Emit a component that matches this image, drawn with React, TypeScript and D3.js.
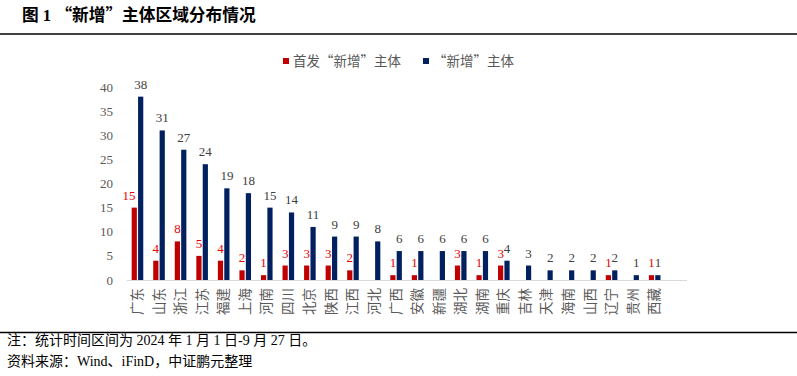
import React from "react";
import * as d3 from "d3";

const categories = ["广东","山东","浙江","江苏","福建","上海","河南","四川","北京","陕西","江西","河北","广西","安徽","新疆","湖北","湖南","重庆","吉林","天津","海南","山西","辽宁","贵州","西藏"];
const firstIssue = [15,4,8,5,4,2,1,3,3,3,2,0,1,1,0,3,1,3,0,0,0,0,1,0,1];
const newEntities = [38,31,27,24,19,18,15,14,11,9,9,8,6,6,6,6,6,4,3,2,2,2,2,1,1];
const yTicks = [0,5,10,15,20,25,30,35,40];
const seriesNames = ["首发“新增”主体","“新增”主体"];
const titleText = "图 1 “新增”主体区域分布情况";
const note1 = "注：统计时间区间为 2024 年 1 月 1 日-9 月 27 日。";
const note2 = "资料来源：Wind、iFinD，中证鹏元整理";

const W = 797, H = 376;
const RED = "#C00000", BLUE = "#002060", REDLABEL = "#E60000";
const SERIF = "'Liberation Serif','Times New Roman',serif";
const CJK = "'Noto Sans CJK SC','Liberation Serif',sans-serif";

function Mixed({ text, ...rest }: any) {
  const parts = text.match(/[\x20-\x7E]+|[^\x20-\x7E]+/g) || [];
  return (
    <text {...rest}>
      {parts.map((p: string, i: number) => (
        <tspan key={i} fontFamily={/^[\x20-\x7E]+$/.test(p) ? SERIF : CJK} style={{ whiteSpace: "pre" }}>{p}</tspan>
      ))}
    </text>
  );
}

export default function App() {
  const x = d3.scaleBand().domain(categories).range([126.7, 126.7 + 25 * 21.55]).paddingInner(0);
  const y = d3.scaleLinear().domain([0, 40]).range([280, 87]);
  const bw = 5.2;
  const cx = (c: string) => (x(c) as number) + x.bandwidth() / 2;
  return (
    <div style={{ position: "absolute", left: 0, top: 0 }}>
      <svg width={W} height={H} style={{ display: "block", background: "#fff" }}>
        <Mixed text={titleText} x={22} y={21} fontWeight="bold" fontSize={16.7} fill="#000" />
        <line x1={0} x2={W} y1={34} y2={34} stroke="#000" strokeWidth={1.5} />
        {/* legend */}
        <rect x={283} y={58} width={6} height={6} fill={RED} />
        <text x={293} y={66} fontFamily={CJK} fontSize={13.5} fill="#595959">{seriesNames[0]}</text>
        <rect x={423} y={58} width={6} height={6} fill={BLUE} />
        <text x={433} y={66} fontFamily={CJK} fontSize={13.5} fill="#595959">{seriesNames[1]}</text>
        {/* y ticks */}
        {yTicks.map((t) => (
          <text key={t} x={113} y={y(t) + 4.5} textAnchor="end" fontFamily={SERIF} fontSize={13} fill="#595959">{t}</text>
        ))}
        <line x1={126.7} x2={687} y1={280.5} y2={280.5} stroke="#D9D9D9" strokeWidth={1} />
        {categories.map((c, i) => {
          const c0 = cx(c);
          const r = firstIssue[i], b = newEntities[i];
          const rx = c0 - 5.8, bx = c0 + 0.6;
          return (
            <g key={c}>
              {r > 0 && <rect x={rx} y={y(r)} width={bw} height={280 - y(r)} fill={RED} />}
              <rect x={bx} y={y(b)} width={bw} height={280 - y(b)} fill={BLUE} />
              {r > 0 && (
                <text x={r >= 10 ? rx + bw - 1.5 : rx + bw / 2} y={y(r) - 8} textAnchor={r >= 10 ? "end" : "middle"} fontFamily={SERIF} fontSize={13} fill={REDLABEL}>{r}</text>
              )}
              <text x={bx + bw / 2} y={y(b) - 8} textAnchor="middle" fontFamily={SERIF} fontSize={13} fill="#404040">{b}</text>
              <text transform={`translate(${c0 + 4.5},288) rotate(-90)`} textAnchor="end" fontFamily={CJK} fontSize={13.5} fill="#595959">{c}</text>
            </g>
          );
        })}
        <line x1={0} x2={W} y1={332.5} y2={332.5} stroke="#000" strokeWidth={1.5} />
        <Mixed text={note1} x={7} y={344.5} fontSize={14} fill="#000" />
        <Mixed text={note2} x={7} y={366} fontSize={14} fill="#000" />
      </svg>
    </div>
  );
}
